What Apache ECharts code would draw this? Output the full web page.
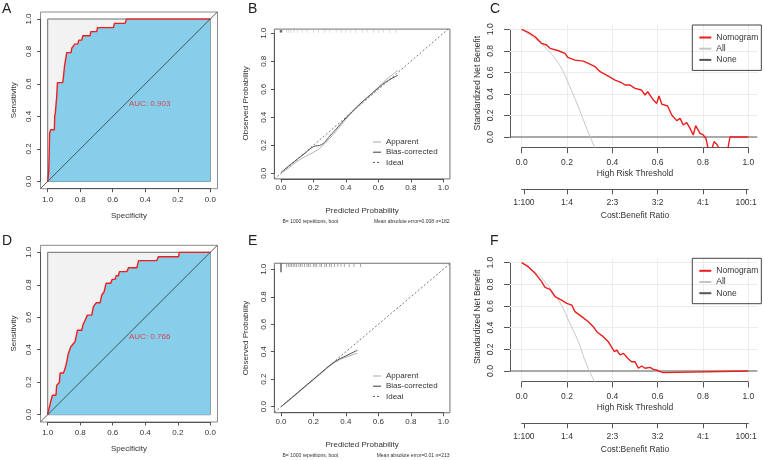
<!DOCTYPE html>
<html>
<head>
<meta charset="utf-8">
<script src="https://cdn.jsdelivr.net/npm/echarts@6/dist/echarts.min.js"></script>
<style>html,body{margin:0;background:#fff}#fig{width:764px;height:460px}</style>
</head>
<body>
<div id="fig"></div>
<script>
// ---- ROC (A: training, D: validation) ----
var rocA_spec = [1, 0.994, 0.99, 0.988, 0.981, 0.959, 0.957, 0.953, 0.945, 0.94, 0.908, 0.904, 0.897, 0.883, 0.856, 0.852, 0.84, 0.834, 0.815, 0.809, 0.79, 0.784, 0.739, 0.735, 0.698, 0.694, 0.595, 0.59, 0.524, 0.515, 0];
var rocA_sens = [0, 0.055, 0.2, 0.30, 0.318, 0.318, 0.40, 0.42, 0.52, 0.608, 0.608, 0.635, 0.707, 0.793, 0.793, 0.82, 0.82, 0.845, 0.845, 0.87, 0.87, 0.897, 0.897, 0.922, 0.922, 0.947, 0.947, 0.973, 0.973, 1, 1];
var rocD_spec = [1, 0.992, 0.982, 0.971, 0.949, 0.945, 0.928, 0.924, 0.903, 0.893, 0.883, 0.873, 0.858, 0.832, 0.817, 0.79, 0.784, 0.77, 0.756, 0.729, 0.719, 0.702, 0.678, 0.667, 0.653, 0.641, 0.612, 0.604, 0.585, 0.579, 0.565, 0.559, 0.513, 0.503, 0.452, 0.441, 0.329, 0.320, 0.195, 0.191, 0];
var rocD_sens = [0, 0.037, 0.078, 0.12, 0.12, 0.18, 0.20, 0.257, 0.257, 0.284, 0.325, 0.377, 0.418, 0.449, 0.52, 0.52, 0.551, 0.582, 0.613, 0.613, 0.665, 0.689, 0.689, 0.737, 0.757, 0.809, 0.809, 0.833, 0.833, 0.856, 0.856, 0.881, 0.881, 0.905, 0.905, 0.949, 0.949, 0.973, 0.973, 1, 1];
var aucA = 'AUC: 0.903', aucD = 'AUC: 0.766';

// ---- calibration (B, E) ----
var calB_pred = [0, 0.05, 0.1, 0.15, 0.2, 0.25, 0.3, 0.35, 0.4, 0.45, 0.5, 0.55, 0.6, 0.65, 0.72];
var calB_app = [0, 0.04, 0.085, 0.12, 0.15, 0.19, 0.25, 0.315, 0.385, 0.45, 0.505, 0.56, 0.615, 0.67, 0.735];
var calB_bc = [0.005, 0.055, 0.1, 0.145, 0.19, 0.205, 0.265, 0.33, 0.395, 0.455, 0.51, 0.56, 0.61, 0.655, 0.7];
var rugB = [0.035, 0.045, 0.06, 0.08, 0.1, 0.13, 0.16, 0.2, 0.23, 0.27, 0.3, 0.34, 0.37, 0.4, 0.43, 0.46, 0.5, 0.53, 0.57, 0.6, 0.63, 0.67, 0.71];
var calE_pred = [0, 0.05, 0.1, 0.15, 0.2, 0.25, 0.3, 0.35, 0.4, 0.47];
var calE_app = [0, 0.045, 0.095, 0.145, 0.195, 0.245, 0.295, 0.335, 0.36, 0.39];
var calE_bc = [0, 0.05, 0.1, 0.15, 0.2, 0.25, 0.3, 0.34, 0.37, 0.41];
var rugE = [0.035, 0.045, 0.055, 0.065, 0.075, 0.085, 0.095, 0.11, 0.12, 0.13, 0.145, 0.16, 0.17, 0.18, 0.2, 0.21, 0.22, 0.24, 0.25, 0.27, 0.28, 0.3, 0.31, 0.33, 0.35, 0.37, 0.39, 0.42, 0.45, 0.49];
var textB = ['B= 1000 repetitions, boot', 'Mean absolute error=0.008 n=182'];
var textE = ['B= 1000 repetitions, boot', 'Mean absolute error=0.01 n=213'];

// ---- decision curves (C, F) ----
var dcaC_thr = [0, 0.029, 0.059, 0.088, 0.11, 0.125, 0.162, 0.191, 0.203, 0.235, 0.272, 0.301, 0.324, 0.346, 0.382, 0.412, 0.441, 0.456, 0.478, 0.5, 0.529, 0.544, 0.556, 0.581, 0.596, 0.606, 0.618, 0.644, 0.662, 0.684, 0.699, 0.713, 0.728, 0.743, 0.757, 0.768, 0.776, 0.787, 0.801, 0.813, 0.824, 0.838, 0.849, 0.86, 0.875, 0.909, 0.919, 1.0];
var dcaC_nomo = [1, 0.971, 0.931, 0.869, 0.854, 0.823, 0.801, 0.776, 0.739, 0.714, 0.705, 0.677, 0.653, 0.606, 0.566, 0.529, 0.504, 0.483, 0.483, 0.452, 0.436, 0.39, 0.42, 0.343, 0.312, 0.38, 0.306, 0.288, 0.204, 0.152, 0.173, 0.111, 0.133, 0.08, 0.019, 0.105, 0.121, 0.034, 0.019, -0.012, -0.12, -0.12, -0.043, -0.065, -0.12, -0.12, 0, 0];
var dcaC_allThr = [0, 0.074, 0.1, 0.147, 0.18, 0.206, 0.25, 0.287, 0.325];
var dcaC_all = [1, 0.89, 0.84, 0.73, 0.62, 0.5, 0.28, 0.08, -0.11];
var dcaF_thr = [0, 0.029, 0.059, 0.088, 0.103, 0.125, 0.147, 0.176, 0.199, 0.221, 0.235, 0.265, 0.294, 0.316, 0.331, 0.36, 0.382, 0.409, 0.419, 0.434, 0.449, 0.468, 0.485, 0.5, 0.515, 0.529, 0.544, 0.566, 0.581, 0.596, 0.61, 0.625, 0.632, 1.0];
var dcaF_nomo = [1, 0.963, 0.902, 0.825, 0.772, 0.754, 0.686, 0.655, 0.625, 0.609, 0.548, 0.502, 0.455, 0.409, 0.363, 0.317, 0.271, 0.178, 0.194, 0.148, 0.163, 0.117, 0.086, 0.086, 0.025, 0.046, 0.025, 0.034, 0.015, 0.009, -0.006, -0.015, 0, 0];
var dcaF_allThr = [0, 0.074, 0.1, 0.147, 0.18, 0.206, 0.25, 0.287, 0.325];
var dcaF_all = [1, 0.886, 0.83, 0.7, 0.59, 0.47, 0.27, 0.055, -0.11];
var costTicks = [0.01, 0.2, 0.4, 0.6, 0.8, 0.99];
var costLabels = ['1:100', '1:4', '2:3', '3:2', '4:1', '100:1'];
var gridTicks = [0, 0.2, 0.4, 0.6, 0.8, 1];

var FONT = '"Liberation Sans", Arial, sans-serif';
var TXT = '#333', AX = '#555';

function merge(a, b) {
  for (var k in b) {
    if (b[k] && typeof b[k] === 'object' && !Array.isArray(b[k]) && a[k] && typeof a[k] === 'object') merge(a[k], b[k]);
    else a[k] = b[k];
  }
  return a;
}
function zip(xs, ys) { return xs.map(function (x, i) { return [x, ys[i]]; }); }

function baseAxis() {
  return {
    type: 'value', min: 0, max: 1, interval: 0.2,
    axisLine: {show: true, onZero: false, lineStyle: {color: AX, width: 1}},
    axisTick: {show: true, length: 3.5, lineStyle: {color: AX}},
    axisLabel: {fontSize: 8, color: TXT, fontFamily: FONT, margin: 5,
      formatter: function (v) { return v.toFixed(1); }},
    splitLine: {show: false},
    nameLocation: 'middle',
    nameTextStyle: {fontSize: 8, color: TXT, fontFamily: FONT}
  };
}

var grids = [], xAxes = [], yAxes = [], series = [], titles = [], legends = [];

// o.L/T/W/H: pixel box of the [0,1]x[0,1] square; o.xr/o.yr: data range of the plot region
function panel(o) {
  var gi = grids.length, xi = xAxes.length, yi = yAxes.length;
  var dl = o.inv ? o.L - (o.xr[1] - 1) * o.W : o.L + o.xr[0] * o.W;
  var dt = o.T - (o.yr[1] - 1) * o.H;
  var dw = (o.xr[1] - o.xr[0]) * o.W, dh = (o.yr[1] - o.yr[0]) * o.H;
  grids.push({left: dl, top: dt, width: dw, height: dh, show: !!o.box,
    borderColor: o.boxColor || '#777', borderWidth: 1, backgroundColor: 'rgba(0,0,0,0)'});
  grids.push({left: o.L, top: o.T, width: o.W, height: o.H});
  xAxes.push({type: 'value', gridIndex: gi, min: o.xr[0], max: o.xr[1], inverse: !!o.inv, show: false});
  yAxes.push({type: 'value', gridIndex: gi, min: o.yr[0], max: o.yr[1], show: false});
  xAxes.push(merge(merge(baseAxis(), {gridIndex: gi + 1, inverse: !!o.inv, position: 'bottom',
    offset: dt + dh - o.T - o.H}), o.xa || {}));
  yAxes.push(merge(merge(baseAxis(), {gridIndex: gi + 1, position: 'left', offset: o.L - dl,
    axisLabel: {rotate: 90}}), o.ya || {}));
  return {dx: xi, dy: yi, ax: xi + 1, ay: yi + 1, xr: o.xr, yr: o.yr, H: o.H, bottom: dt + dh - o.T - o.H};
}

function line(name, p, useData, data, color, width, extra) {
  return merge({
    type: 'line', name: name, data: data,
    xAxisIndex: useData ? p.dx : p.ax, yAxisIndex: useData ? p.dy : p.ay,
    symbol: 'none', clip: true, silent: true,
    itemStyle: {color: color},
    lineStyle: {color: color, width: width}
  }, extra || {});
}

function rocPanel(L, T, spec, sens, auc) {
  var p = panel({L: L, T: T, W: 162.6, H: 162.4, xr: [-0.044, 1.044], yr: [-0.045, 1.043],
    inv: true, box: true, boxColor: '#8c8c8c',
    xa: {name: 'Specificity', nameGap: 23, axisLabel: {margin: 7}},
    ya: {name: 'Sensitivity', nameGap: 23, axisLabel: {margin: 8}}});
  series.push(line('', p, false, [], AX, 1, {
    markArea: {silent: true, itemStyle: {color: '#f2f2f2', borderColor: '#6e6e6e', borderWidth: 1},
      data: [[{coord: [0, 0]}, {coord: [1, 1]}]]}}));
  series.push(line('roc', p, false, zip(spec, sens), '#f01e1e', 1.4, {
    areaStyle: {color: '#87ceeb', opacity: 1, origin: 'start'}, z: 3}));
  series.push(line('diag', p, true, [[p.xr[1], 1 - p.xr[1]], [p.xr[0], 1 - p.xr[0]]], '#333', 0.8, {z: 4}));
  series.push({type: 'scatter', xAxisIndex: p.ax, yAxisIndex: p.ay, data: [[0.5, 0.478]],
    symbolSize: 0, silent: true, z: 5,
    label: {show: true, position: 'right', distance: 0, formatter: auc,
      color: '#e8262d', fontSize: 8, fontFamily: FONT}});
}

function calPanel(T, H, yr, pred, app, bc, rug, texts, legTop, dark) {
  var p = panel({L: 281, T: T, W: 162.3, H: H, xr: [-0.041, 1.041], yr: yr, box: true, boxColor: '#707070',
    xa: {name: 'Predicted Probability', nameGap: 28, axisLabel: {margin: 5}},
    ya: {name: 'Observed Probability', nameGap: 25, axisLabel: {margin: 7}}});
  series.push(line('Ideal', p, true, [[p.xr[0], p.xr[0]], [p.xr[1], p.xr[1]]], '#555', 0.8,
    {lineStyle: {type: [2, 2]}}));
  series.push(line('Apparent', p, false, zip(pred, app), '#a8a8a8', 0.9, {smooth: true}));
  series.push(line('Bias-corrected', p, false, zip(pred, bc), '#3c3c3c', 0.9, {smooth: true}));
  var ry = p.yr[1] - 2.2 / p.H;
  series.push({type: 'scatter', xAxisIndex: p.dx, yAxisIndex: p.dy, silent: true,
    data: rug.map(function (v) { return [v, ry]; }), symbol: 'rect', symbolSize: [0.8, 3],
    itemStyle: {color: dark ? '#777' : '#c4c4c4'}});
  series.push({type: 'scatter', xAxisIndex: p.dx, yAxisIndex: p.dy, silent: true,
    data: [[0, p.yr[1] - (dark ? 4.5 : 2.2) / p.H]], symbol: 'rect', symbolSize: dark ? [1.5, 9] : [2.5, 2.5],
    itemStyle: {color: '#444'}});
  var yb = T + H + p.bottom;
  titles.push({text: texts[0], left: 282.5, top: yb + 40, padding: 0,
    textStyle: {fontSize: 5, fontWeight: 'normal', color: TXT, fontFamily: FONT}});
  titles.push({text: texts[1], right: 764 - 449.5, top: yb + 40, padding: 0,
    textStyle: {fontSize: 5, fontWeight: 'normal', color: TXT, fontFamily: FONT}});
  legends.push({left: 372.5, top: legTop, orient: 'vertical', itemWidth: 8, itemHeight: 9, itemGap: 2.2,
    padding: 0, selectedMode: false, data: ['Apparent', 'Bias-corrected', 'Ideal'],
    itemStyle: {opacity: 0}, lineStyle: {width: 1},
    textStyle: {fontSize: 8, color: TXT, fontFamily: FONT}});
}

function dcaPanel(T, H, yr, thr, nomo, allThr, all, legTop) {
  var p = panel({L: 521.7, T: T, W: 226.6, H: H, xr: [-0.052, 1.04], yr: yr,
    xa: {name: 'High Risk Threshold', nameGap: 22, axisTick: {length: 6}, axisLabel: {margin: 11, fontSize: 8.5},
      nameTextStyle: {fontSize: 8.5}},
    ya: {name: 'Standardized Net Benefit', nameGap: 28, axisTick: {length: 6},
      axisLabel: {margin: 15, fontSize: 8.5}, nameTextStyle: {fontSize: 8.5}}});
  xAxes.push(merge(baseAxis(), {gridIndex: grids.length - 1, position: 'bottom', offset: 52.3,
    name: 'Cost:Benefit Ratio', nameGap: 22, nameTextStyle: {fontSize: 8.5},
    axisTick: {length: 5, customValues: costTicks},
    axisLabel: {margin: 9, fontSize: 8.5, customValues: costTicks,
      formatter: function (v) { return costLabels[costTicks.indexOf(v)]; }}}));
  var gl = gridTicks.map(function (v) { return {xAxis: v}; })
    .concat(gridTicks.slice(1).map(function (v) { return {yAxis: v}; }));
  series.push(line('None', p, true, [[p.xr[0], 0], [p.xr[1], 0]], '#555', 1, {
    markLine: {silent: true, symbol: 'none', z: 1, label: {show: false},
      lineStyle: {color: '#ececec', width: 1, type: 'solid'}, data: gl}}));
  series.push(line('All', p, true, zip(allThr, all), '#c6c6c6', 1, {smooth: true}));
  series.push(line('Nomogram', p, true, zip(thr, nomo), '#ee1c1c', 1.4, {z: 4}));
  legends.push({left: 692.3, top: legTop, orient: 'vertical', itemWidth: 12, itemHeight: 9, itemGap: 2.2,
    padding: [8, 3, 6, 6], borderColor: '#444', borderWidth: 1, selectedMode: false,
    itemStyle: {opacity: 0},
    data: ['Nomogram', 'All', 'None'], textStyle: {fontSize: 8.5, color: TXT, fontFamily: FONT}});
}

rocPanel(47.7, 19, rocA_spec, rocA_sens, aucA);
rocPanel(47.7, 252.3, rocD_spec, rocD_sens, aucD);
calPanel(33.3, 140, [-0.04, 1.03], calB_pred, calB_app, calB_bc, rugB, textB, 138, false);
calPanel(269.3, 137.4, [-0.044, 1.044], calE_pred, calE_app, calE_bc, rugE, textE, 372, true);
dcaPanel(29.3, 107.7, [-0.095, 1.042], dcaC_thr, dcaC_nomo, dcaC_allThr, dcaC_all, 25);
dcaPanel(262.7, 108.3, [-0.097, 1.04], dcaF_thr, dcaF_nomo, dcaF_allThr, dcaF_all, 258.3);

var letters = [['A', 2, 2], ['B', 248, 2], ['C', 490, 2], ['D', 2, 234], ['E', 248, 234], ['F', 490, 234]];
letters.forEach(function (l) {
  titles.push({text: l[0], left: l[1], top: l[2], padding: 0,
    textStyle: {fontSize: 14, fontWeight: 'normal', color: '#222', fontFamily: FONT}});
});

var chart = echarts.init(document.getElementById('fig'));
chart.setOption({
  animation: false,
  backgroundColor: '#fff',
  title: titles,
  legend: legends,
  grid: grids,
  xAxis: xAxes,
  yAxis: yAxes,
  series: series
});
</script>
</body>
</html>
